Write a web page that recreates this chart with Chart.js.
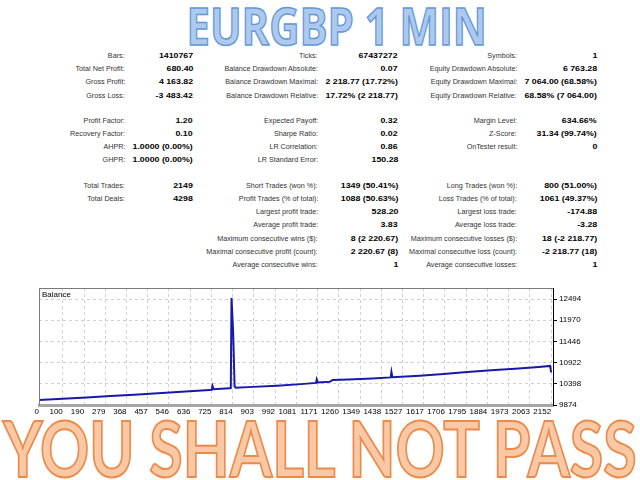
<!DOCTYPE html>
<html>
<head>
<meta charset="utf-8">
<script src="https://cdn.jsdelivr.net/npm/chart.js@4.4.0/dist/chart.umd.min.js"></script>
<style>
  html, body { margin: 0; padding: 0; background: #fff; width: 640px; height: 480px; overflow: hidden; }
  .big { position: absolute; left: -500px; width: 1640px; text-align: center; white-space: nowrap; line-height: 1; font-family: "Open Sans", sans-serif; }
  #title { left: -483px; top: -1px; font-size: 52px; font-weight: 700; color: #adc9ee; -webkit-text-stroke: 1.5px #6398d8; }
  #footer { top: 410px; font-family: Lato, "Open Sans", sans-serif; font-size: 76px; font-weight: 700; color: #f9c9a6; -webkit-text-stroke: 2px #ec8a4a; }
  .big span { display: inline-block; transform-origin: center top; }
  .cell { position: absolute; font-family: "Liberation Sans", Arial, sans-serif; font-size: 8px; line-height: 10px; white-space: nowrap; transform-origin: right center; }
  .lab { color: #333; transform: scaleX(0.9); }
  .val { color: #000; font-weight: bold; transform: scaleX(1.1); }
  #wrap { position: absolute; left: 0; top: 280px; width: 600px; height: 140px; }
</style>
</head>
<body>
<div id="title" class="big"><span>EURGBP 1 MIN</span></div>
<div id="stats"></div>
<div id="wrap"><canvas id="balanceChart" width="600" height="140"></canvas></div>
<div id="footer" class="big"><span>YOU SHALL NOT PASS</span></div>
<script>
// Tabla de resultados (tres columnas)
const col1Labels = ["Bars:", "Total Net Profit:", "Gross Profit:", "Gross Loss:", "Profit Factor:", "Recovery Factor:", "AHPR:", "GHPR:", "Total Trades:", "Total Deals:"];
const col1Values = ["1410767", "680.40", "4 163.82", "-3 483.42", "1.20", "0.10", "1.0000 (0.00%)", "1.0000 (0.00%)", "2149", "4298"];
const col2Labels = ["Ticks:", "Balance Drawdown Absolute:", "Balance Drawdown Maximal:", "Balance Drawdown Relative:", "Expected Payoff:", "Sharpe Ratio:", "LR Correlation:", "LR Standard Error:", "Short Trades (won %):", "Profit Trades (% of total):", "Largest profit trade:", "Average profit trade:", "Maximum consecutive wins ($):", "Maximal consecutive profit (count):", "Average consecutive wins:"];
const col2Values = ["67437272", "0.07", "2 218.77 (17.72%)", "17.72% (2 218.77)", "0.32", "0.02", "0.86", "150.28", "1349 (50.41%)", "1088 (50.63%)", "528.20", "3.83", "8 (2 220.67)", "2 220.67 (8)", "1"];
const col3Labels = ["Symbols:", "Equity Drawdown Absolute:", "Equity Drawdown Maximal:", "Equity Drawdown Relative:", "Margin Level:", "Z-Score:", "OnTester result:", "", "Long Trades (won %):", "Loss Trades (% of total):", "Largest loss trade:", "Average loss trade:", "Maximum consecutive losses ($):", "Maximal consecutive loss (count):", "Average consecutive losses:"];
const col3Values = ["1", "6 763.28", "7 064.00 (68.58%)", "68.58% (7 064.00)", "634.66%", "31.34 (99.74%)", "0", "", "800 (51.00%)", "1061 (49.37%)", "-174.88", "-3.28", "18 (-2 218.77)", "-2 218.77 (18)", "1"];

// Curva de balance (número de operación / balance)
const tradeNo = [0, 100, 200, 300, 400, 500, 600, 700, 726, 729, 734, 800, 806, 809, 816, 822, 827, 900, 1000, 1100, 1164, 1167, 1171, 1222, 1234, 1300, 1400, 1478, 1481, 1485, 1600, 1700, 1800, 1900, 2000, 2100, 2148, 2152];
const balance = [10000, 10030, 10062, 10095, 10130, 10165, 10200, 10240, 10252, 10345, 10262, 10285, 10292, 12521, 11650, 10330, 10302, 10322, 10352, 10390, 10420, 10505, 10432, 10448, 10492, 10505, 10530, 10556, 10690, 10562, 10600, 10640, 10690, 10730, 10770, 10815, 10840, 10680];

// Etiquetas de los ejes
const xTickValues = [0, 100, 190, 279, 368, 457, 546, 636, 725, 814, 903, 992, 1081, 1171, 1260, 1349, 1438, 1527, 1617, 1706, 1795, 1884, 1973, 2063, 2152];
const yTickValues = [9874, 10398, 10922, 11446, 11970, 12494];

// Posiciones de la tabla (borde derecho de cada columna)
const colX = [[125, 193], [318, 398], [517, 597]];
const rowY = [51, 64, 77, 91, 116, 129, 142, 155, 181, 194, 207, 220, 234, 247, 260];

const stats = document.getElementById("stats");
function addCell(cls, txt, right, top) {
    const d = document.createElement("div");
    d.className = "cell " + cls;
    d.textContent = txt;
    d.style.right = (640 - right) + "px";
    d.style.top = top + "px";
    stats.appendChild(d);
}
[[col1Labels, col1Values], [col2Labels, col2Values], [col3Labels, col3Values]].forEach((col, c) => {
    col[0].forEach((txt, i) => {
        if (!txt) return;
        addCell("lab", txt, colX[c][0], rowY[i]);
        addCell("val", col[1][i], colX[c][1], rowY[i]);
    });
});

// Ajustar el ancho de los textos grandes
function fitWidth(id, w) {
    const s = document.querySelector("#" + id + " span");
    s.style.transform = "scaleX(" + (w / s.offsetWidth) + ")";
}
fitWidth("title", 300);
fitWidth("footer", 634);

// Marco y rótulo "Balance"
const framePlugin = {
    id: "frame",
    afterDraw(chart) {
        const { ctx, chartArea: a } = chart;
        ctx.save();
        ctx.strokeStyle = "#7a7a7a";
        ctx.lineWidth = 1;
        ctx.beginPath();
        ctx.moveTo(a.left + 0.5, a.bottom);
        ctx.lineTo(a.left + 0.5, a.top + 0.5);
        ctx.lineTo(a.right, a.top + 0.5);
        ctx.stroke();
        ctx.fillStyle = "#000";
        ctx.font = "8px 'Liberation Sans', Arial, sans-serif";
        ctx.textBaseline = "top";
        ctx.fillText("Balance", a.left + 3, a.top + 3);
        ctx.restore();
    }
};

const ctx = document.getElementById("balanceChart").getContext("2d");
new Chart(ctx, {
    type: "line",
    data: {
        datasets: [{
            label: "Balance",
            data: tradeNo.map((t, i) => ({ x: t, y: balance[i] })),
            borderColor: "#1818aa",
            borderWidth: 2,
            pointRadius: 0,
            tension: 0,
            fill: false
        }]
    },
    options: {
        responsive: false,
        animation: false,
        layout: { padding: { left: 39, top: 8, right: 0, bottom: 0 } },
        plugins: { legend: { display: false }, tooltip: { enabled: false } },
        scales: {
            x: {
                type: "linear",
                min: 0,
                max: 2160,
                afterBuildTicks: a => { a.ticks = xTickValues.map(v => ({ value: v })); },
                afterFit: a => { a.height = 15; },
                grid: { color: "#cfcfcf", drawTicks: false, tickLength: 0 },
                border: { color: "#a6a6a6", width: 3, dash: [3, 3] },
                ticks: {
                    color: "#000",
                    font: { size: 8, family: "Liberation Sans" },
                    padding: 2,
                    maxRotation: 0,
                    autoSkip: false,
                    align: "end",
                    callback: v => String(v)
                }
            },
            y: {
                position: "right",
                min: 9874,
                max: 12766,
                afterBuildTicks: a => { a.ticks = yTickValues.map(v => ({ value: v })); },
                afterFit: a => { a.width = 47; },
                grid: { color: "#cfcfcf", tickColor: "#000", tickLength: 4, tickBorderDash: [] },
                border: { color: "#000", width: 1, dash: [3, 3] },
                ticks: {
                    color: "#000",
                    font: { size: 8, family: "Liberation Sans" },
                    padding: 2,
                    callback: v => String(v)
                }
            }
        }
    },
    plugins: [framePlugin]
});
</script>
</body>
</html>
